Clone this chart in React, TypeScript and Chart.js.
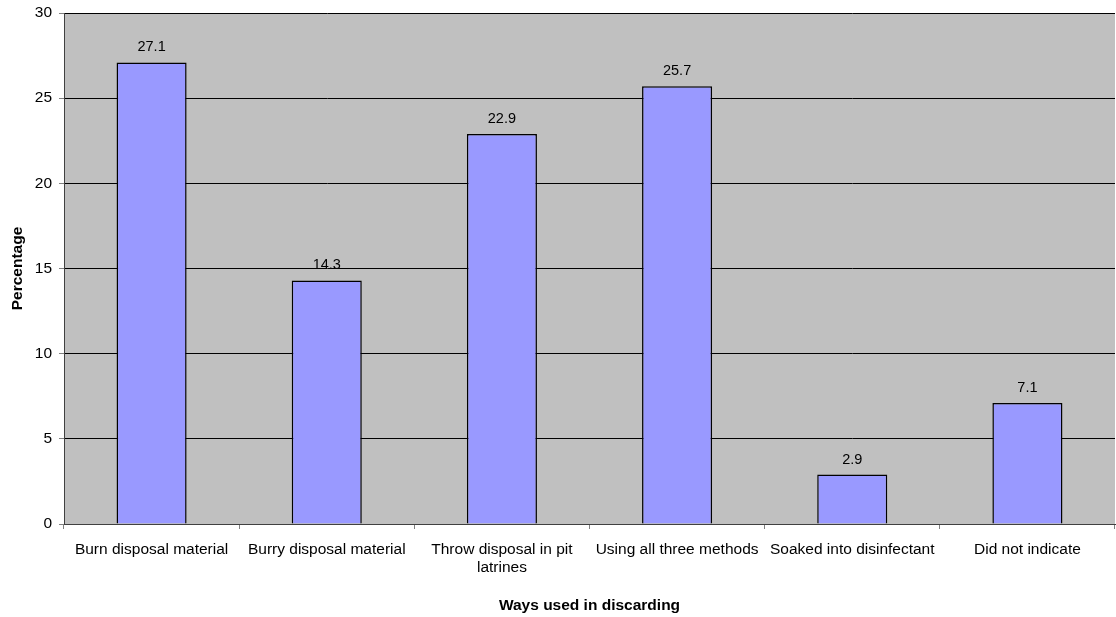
import React, { useEffect, useRef } from "react";
import { Chart, registerables } from "chart.js";

Chart.register(...registerables);

const categories: (string | string[])[] = [
  "Burn disposal material",
  "Burry disposal material",
  ["Throw disposal in pit", "latrines"],
  "Using all three methods",
  "Soaked into disinfectant",
  "Did not indicate",
];
const percentages = [27.1, 14.3, 22.9, 25.7, 2.9, 7.1];
const yTicks = [0, 5, 10, 15, 20, 25, 30];

const FONT = "'Liberation Sans', Arial, sans-serif";

const plotBg = {
  id: "plotBg",
  beforeDraw(chart: any) {
    const { ctx, chartArea } = chart;
    ctx.save();
    ctx.fillStyle = "#C0C0C0";
    ctx.fillRect(chartArea.left, chartArea.top, chartArea.right - chartArea.left, chartArea.bottom - chartArea.top);
    ctx.restore();
  },
};

const valueLabels = {
  id: "valueLabels",
  afterDatasetsDraw(chart: any) {
    const { ctx } = chart;
    const meta = chart.getDatasetMeta(0);
    ctx.save();
    ctx.font = "14.5px " + FONT;
    ctx.fillStyle = "#000";
    ctx.textAlign = "center";
    ctx.textBaseline = "alphabetic";
    meta.data.forEach((el: any, i: number) => {
      ctx.fillText(String(percentages[i]), el.x, el.y - 11);
    });
    ctx.restore();
  },
};

export default function App() {
  const ref = useRef<HTMLCanvasElement>(null);
  useEffect(() => {
    if (!ref.current) return;
    const chart = new Chart(ref.current, {
      type: "bar",
      data: {
        labels: categories,
        datasets: [
          {
            data: percentages,
            backgroundColor: "#9999FF",
            borderColor: "#000000",
            borderWidth: 1.5,
            barPercentage: 0.4,
            categoryPercentage: 1,
          },
        ],
      },
      options: {
        animation: false,
        responsive: false,
        layout: { padding: { top: 13, right: 1, left: 0, bottom: 0 } },
        plugins: { legend: { display: false }, tooltip: { enabled: false } },
        scales: {
          x: {
            grid: {
              display: true,
              drawOnChartArea: false,
              drawTicks: true,
              tickLength: 5,
              color: "#808080",
              offset: true,
            },
            border: { color: "#404040", width: 1 },
            ticks: {
              color: "#000",
              font: { family: FONT, size: 15.5, lineHeight: 1.16 },
              padding: 12,
              maxRotation: 0,
              autoSkip: false,
            },
            title: {
              display: true,
              text: "Ways used in discarding",
              color: "#000",
              font: { family: FONT, size: 15.5, weight: "bold" },
              padding: { top: 0, bottom: 2 },
            },
            afterFit(scale: any) {
              scale.height = 93;
              scale.paddingLeft = 0;
              scale.paddingRight = 0;
            },
          },
          y: {
            min: 0,
            max: 30,
            afterBuildTicks(scale: any) {
              scale.ticks = yTicks.map((v) => ({ value: v }));
            },
            grid: {
              color: "#000000",
              lineWidth: 1,
              drawTicks: true,
              tickLength: 5,
              tickColor: "#808080",
            },
            border: { color: "#404040", width: 1 },
            ticks: {
              color: "#000",
              font: { family: FONT, size: 15.5 },
              padding: 7,
            },
            title: {
              display: true,
              text: "Percentage",
              color: "#000",
              font: { family: FONT, size: 15.5, weight: "bold" },
              padding: { top: 8, bottom: 0 },
            },
            afterFit(scale: any) {
              scale.width = 64;
              scale.paddingTop = 0;
              scale.paddingBottom = 0;
            },
          },
        },
      },
      plugins: [plotBg, valueLabels],
    });
    return () => chart.destroy();
  }, []);
  return (
    <div style={{ position: "absolute", left: 0, top: 0, width: 1116, height: 617, background: "#fff" }}>
      <canvas ref={ref} width={1116} height={617} style={{ display: "block" }} />
    </div>
  );
}
